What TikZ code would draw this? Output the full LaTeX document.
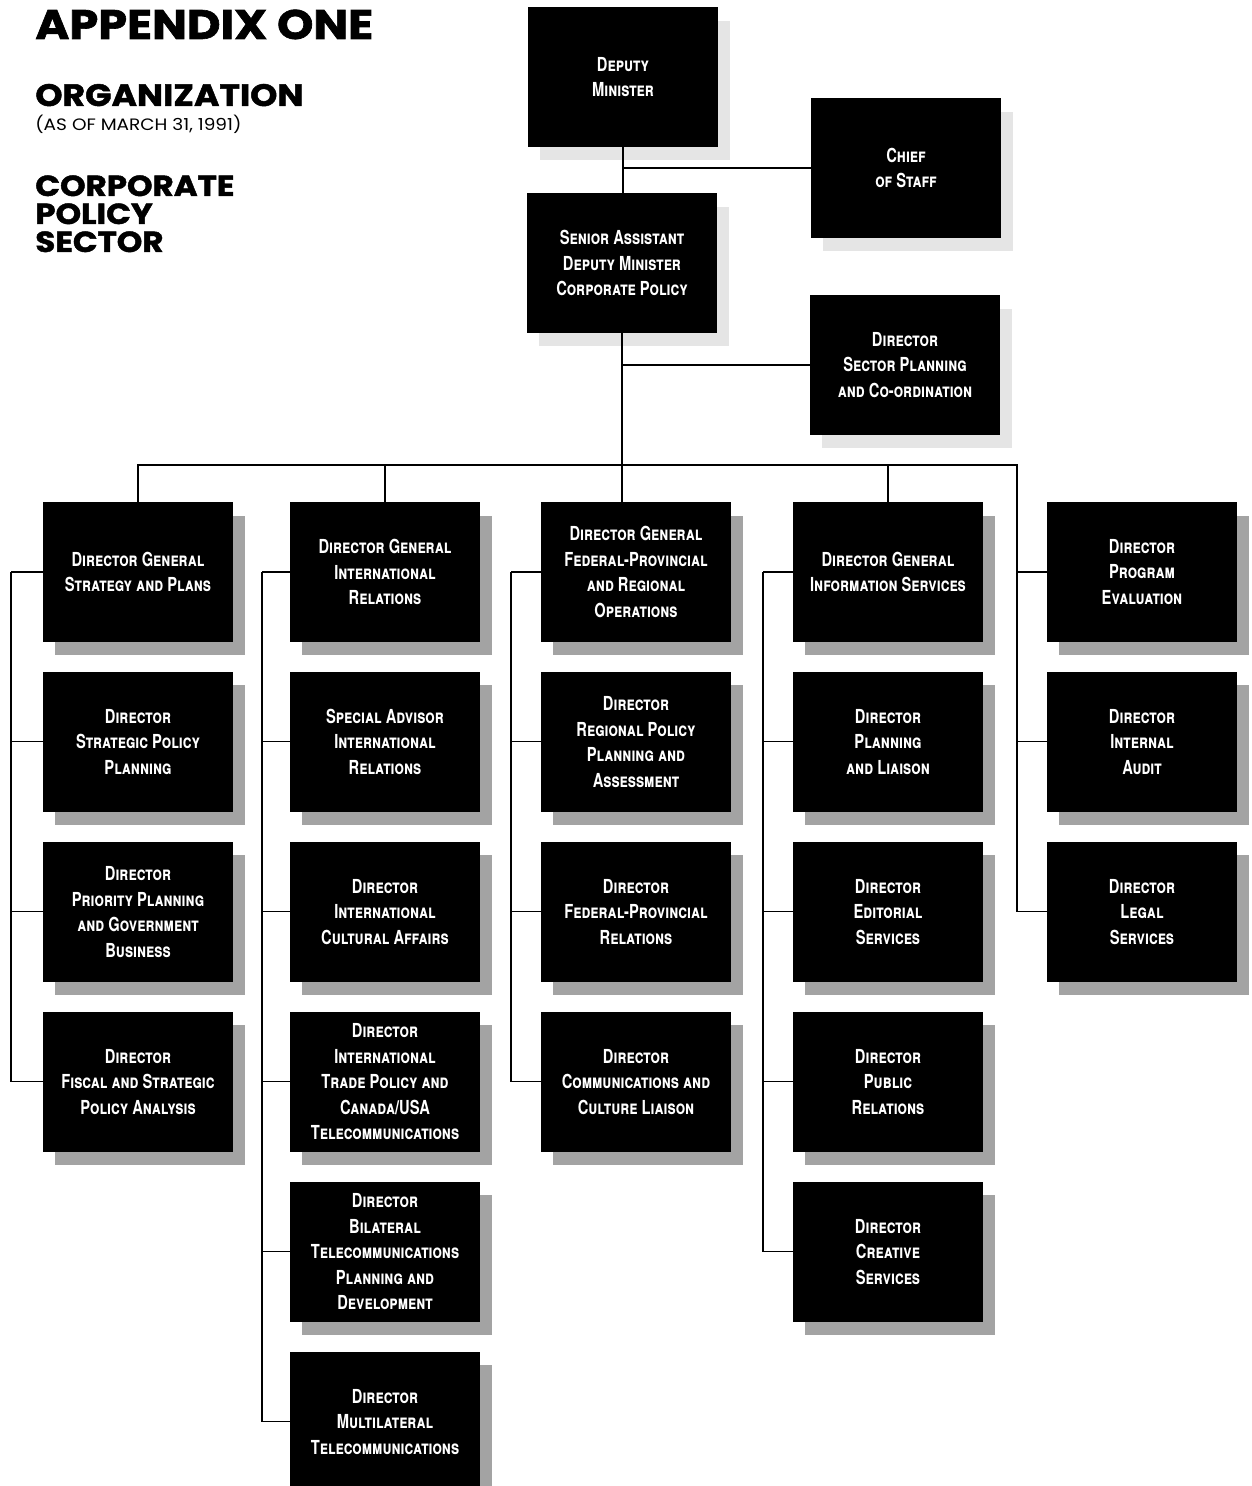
\documentclass[tikz,border=0pt]{standalone}
\usepackage{fontspec}
\setmainfont{TeX Gyre Heros}
\newfontfamily\cajafont{TeX Gyre Heros}[FakeStretch=0.76]
\newfontfamily\titfont{Poppins}[FakeStretch=1.12, BoldFeatures={FakeBold=1.6}]
\usetikzlibrary{positioning,calc,shadows}
\tikzset{
  caja/.style    = {fill=black, text=white, align=center, inner sep=2pt,
                    minimum width=3.8cm, minimum height=2.8cm,
                    font=\cajafont\fontsize{11}{14.5}\selectfont\bfseries\scshape},
  dirbox/.style  = {caja, drop shadow={shadow xshift=.24cm, shadow yshift=-.27cm,
                    fill=black!36, opacity=1}},
  topbox/.style  = {caja, drop shadow={shadow xshift=.24cm, shadow yshift=-.27cm,
                    fill=black!10, opacity=1}},
  conn/.style    = {line width=.6pt},
  titulo/.style  = {anchor=base west, inner sep=0pt,
                    font=\titfont\bfseries\fontsize{16.5}{16.5}\selectfont},
}

\begin{document}
\begin{tikzpicture}[x=0.02cm, y=-0.02cm, node distance=5.85mm]
  \useasboundingbox (0,0) rectangle (1251,1486);
  % encabezado
  \node[titulo, font=\titfont\bfseries\fontsize{23.5}{23.5}\selectfont] (apendice) at (35,39) {APPENDIX ONE};
  \node[titulo, font=\titfont\bfseries\fontsize{17.6}{17.6}\selectfont] (organiz) at (35,106) {ORGANIZATION};
  \node[titulo, font=\titfont\fontsize{9.4}{9.4}\selectfont] (fecha) at (35,131) {(AS OF MARCH 31, 1991)};
  \node[titulo] (sec1) at (35,196) {CORPORATE};
  \node[titulo] (sec2) at (35,224) {POLICY};
  \node[titulo] (sec3) at (35,252) {SECTOR};

  % cabeza del sector
  \node[topbox] (dm)   at (623,77)  {Deputy\\Minister};
  \node[topbox] (cos)  at (906,168) {Chief\\of Staff};
  \node[topbox] (sadm) at (622,263) {Senior Assistant\\Deputy Minister\\Corporate Policy};
  \node[topbox] (dspc) at (905,365) {Director\\Sector Planning\\and Co-ordination};

  % direcciones generales
  \node[dirbox] (dg1) at (138,572)  {Director General\\Strategy and Plans};
  \node[dirbox] (dg2) at (385,572)  {Director General\\International\\Relations};
  \node[dirbox] (dg3) at (636,572)  {Director General\\Federal-Provincial\\and Regional\\Operations};
  \node[dirbox] (dg4) at (888,572)  {Director General\\Information Services};
  \node[dirbox] (pe)  at (1142,572) {Director\\Program\\Evaluation};

  \node[dirbox, below=of dg1] (spp) {Director\\Strategic Policy\\Planning};
  \node[dirbox, below=of spp] (ppg) {Director\\Priority Planning\\and Government\\Business};
  \node[dirbox, below=of ppg] (fsp) {Director\\Fiscal and Strategic\\Policy Analysis};

  \node[dirbox, below=of dg2] (sair) {Special Advisor\\International\\Relations};
  \node[dirbox, below=of sair] (ica) {Director\\International\\Cultural Affairs};
  \node[dirbox, below=of ica] (itp) {Director\\International\\Trade Policy and\\Canada/USA\\Telecommunications};
  \node[dirbox, below=of itp] (btp) {Director\\Bilateral\\Telecommunications\\Planning and\\Development};
  \node[dirbox, below=of btp] (mlt) {Director\\Multilateral\\Telecommunications};

  \node[dirbox, below=of dg3] (rpp) {Director\\Regional Policy\\Planning and\\Assessment};
  \node[dirbox, below=of rpp] (fpr) {Director\\Federal-Provincial\\Relations};
  \node[dirbox, below=of fpr] (ccl) {Director\\Communications and\\Culture Liaison};

  \node[dirbox, below=of dg4] (pl)  {Director\\Planning\\and Liaison};
  \node[dirbox, below=of pl]  (eds) {Director\\Editorial\\Services};
  \node[dirbox, below=of eds] (pr)  {Director\\Public\\Relations};
  \node[dirbox, below=of pr]  (crs) {Director\\Creative\\Services};

  \node[dirbox, below=of pe] (ia) {Director\\Internal\\Audit};
  \node[dirbox, below=of ia] (ls) {Director\\Legal\\Services};

  % enlaces
  \coordinate (bus) at (1017,465);
  \coordinate (s1) at (11,0);
  \coordinate (s2) at (262,0);
  \coordinate (s3) at (511,0);
  \coordinate (s4) at (763,0);
  \draw[conn] (dm.south) -- (dm.south |- sadm.north);
  \draw[conn] (dm.south |- cos.west) -- (cos.west);
  \draw[conn] (sadm.south) -- (sadm.south |- dg3.north);
  \draw[conn] (sadm.south |- dspc.west) -- (dspc.west);
  \draw[conn] (dg1.north) -- (dg1.north |- bus) -- (bus) -- (bus |- ls.west);
  \draw[conn] (dg2.north) -- (dg2.north |- bus);
  \draw[conn] (dg4.north) -- (dg4.north |- bus);
  \foreach \n in {pe,ia,ls}
    \draw[conn] (bus |- \n.west) -- (\n.west);

  \draw[conn] (s1 |- dg1.west) -- (s1 |- fsp.west);
  \foreach \n in {dg1,spp,ppg,fsp}
    \draw[conn] (s1 |- \n.west) -- (\n.west);
  \draw[conn] (s2 |- dg2.west) -- (s2 |- mlt.west);
  \foreach \n in {dg2,sair,ica,itp,btp,mlt}
    \draw[conn] (s2 |- \n.west) -- (\n.west);
  \draw[conn] (s3 |- dg3.west) -- (s3 |- ccl.west);
  \foreach \n in {dg3,rpp,fpr,ccl}
    \draw[conn] (s3 |- \n.west) -- (\n.west);
  \draw[conn] (s4 |- dg4.west) -- (s4 |- crs.west);
  \foreach \n in {dg4,pl,eds,pr,crs}
    \draw[conn] (s4 |- \n.west) -- (\n.west);
\end{tikzpicture}
\end{document}
